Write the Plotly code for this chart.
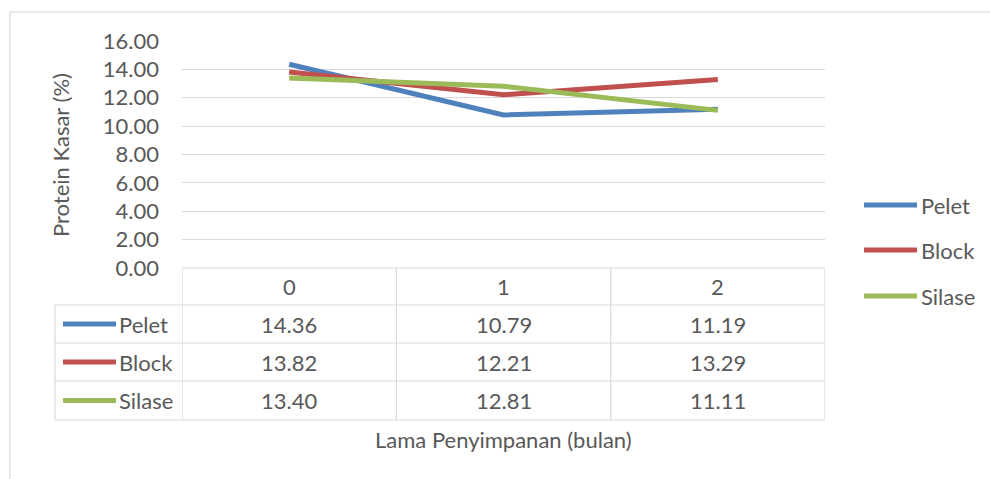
import plotly.graph_objects as go

# ---- data ----
months = ["0", "1", "2"]
series_names = ["Pelet", "Block", "Silase"]
pelet = [14.36, 10.79, 11.19]
block = [13.82, 12.21, 13.29]
silase = [13.40, 12.81, 11.11]
y_ticks = [0, 2, 4, 6, 8, 10, 12, 14, 16]
colors = ["#4F81BD", "#C0504D", "#9BBB59"]

W, H = 990, 479
def X(px): return px / W
def Y(py): return 1 - py / H

FONT = "Lato"
TXT = "#595959"
GRID = "#D9D9D9"
FS = 22

values = [pelet, block, silase]
xs = list(range(len(months)))

fig = go.Figure()
for name, vals, c in zip(series_names, values, colors):
    fig.add_trace(go.Scatter(x=xs, y=vals, mode="lines", name=name,
                             line=dict(color=c, width=5), showlegend=False, hoverinfo="skip"))

plot_l, plot_r, plot_t, plot_b = 182, 825, 41, 268
rows = [268, 305, 343, 381, 420]
col_left = 55

shapes = []
annotations = []

# outer chart border
shapes.append(dict(type="line", xref="paper", yref="paper", x0=X(10), x1=1, y0=Y(12), y1=Y(12), line=dict(color=GRID, width=1.2)))
shapes.append(dict(type="line", xref="paper", yref="paper", x0=X(10), x1=X(10), y0=Y(12), y1=0, line=dict(color=GRID, width=1.2)))

# table horizontal lines
for i, r in enumerate(rows):
    x0 = plot_l if i == 0 else col_left
    shapes.append(dict(type="line", xref="paper", yref="paper", x0=X(x0), x1=X(plot_r), y0=Y(r), y1=Y(r), line=dict(color=GRID, width=1.2)))
# vertical lines at category boundaries (data coords)
for b in [-0.5, 0.5, 1.5, 2.5]:
    shapes.append(dict(type="line", xref="x", yref="paper", x0=b, x1=b, y0=Y(rows[0]), y1=Y(rows[-1]), line=dict(color=GRID, width=1.2)))
shapes.append(dict(type="line", xref="paper", yref="paper", x0=X(col_left), x1=X(col_left), y0=Y(rows[1]), y1=Y(rows[-1]), line=dict(color=GRID, width=1.2)))

# header
for i, m in enumerate(months):
    annotations.append(dict(x=i, xref="x", y=Y((rows[0] + rows[1]) / 2), yref="paper", text=m, showarrow=False,
                            font=dict(family=FONT, size=FS, color=TXT), xanchor="center", yanchor="middle"))
# table body
for j, (name, vals, c) in enumerate(zip(series_names, values, colors)):
    yc = (rows[j + 1] + rows[j + 2]) / 2
    for i, v in enumerate(vals):
        annotations.append(dict(x=i, xref="x", y=Y(yc), yref="paper", text=f"{v:.2f}", showarrow=False,
                                font=dict(family=FONT, size=FS, color=TXT), xanchor="center", yanchor="middle"))
    shapes.append(dict(type="line", xref="paper", yref="paper", x0=X(63), x1=X(116), y0=Y(yc), y1=Y(yc),
                       line=dict(color=c, width=5)))
    annotations.append(dict(x=X(117), xref="paper", y=Y(yc), yref="paper", text=name, showarrow=False,
                            font=dict(family=FONT, size=FS, color=TXT), xanchor="left", yanchor="middle"))

# right legend
for name, c, ly in zip(series_names, colors, [205, 250, 296]):
    shapes.append(dict(type="line", xref="paper", yref="paper", x0=X(864), x1=X(917), y0=Y(ly), y1=Y(ly),
                       line=dict(color=c, width=5)))
    annotations.append(dict(x=X(919), xref="paper", y=Y(ly), yref="paper", text=name, showarrow=False,
                            font=dict(family=FONT, size=FS, color=TXT), xanchor="left", yanchor="middle"))

# axis titles
annotations.append(dict(x=X(504), xref="paper", y=Y(439), yref="paper", text="Lama Penyimpanan (bulan)", showarrow=False,
                        font=dict(family=FONT, size=FS, color=TXT), xanchor="center", yanchor="middle"))
annotations.append(dict(x=X(60), xref="paper", y=Y(155), yref="paper", text="Protein Kasar (%)", showarrow=False, textangle=-90,
                        font=dict(family=FONT, size=FS, color=TXT), xanchor="center", yanchor="middle"))

fig.update_layout(
    width=W, height=H, margin=dict(l=0, r=0, t=0, b=0, autoexpand=False),
    paper_bgcolor="white", plot_bgcolor="white",
    showlegend=False, hovermode=False,
    shapes=shapes, annotations=annotations,
    xaxis=dict(domain=[X(plot_l), X(plot_r)], range=[-0.5, 2.5], showgrid=False, zeroline=False,
               showticklabels=False, showline=False, ticks="", automargin=False),
    yaxis=dict(domain=[Y(plot_b), Y(plot_t)], range=[0, 16], tickvals=y_ticks,
               ticktext=[f"{t:.2f}" for t in y_ticks], showgrid=True, gridcolor=GRID, gridwidth=1.2,
               zeroline=False, showline=False, ticks="", ticklabelstandoff=22, automargin=False,
               tickfont=dict(family=FONT, size=FS, color=TXT)),
)

fig.write_html("out.html", config={"displayModeBar": False},
               post_script="document.body.style.margin='0';")
